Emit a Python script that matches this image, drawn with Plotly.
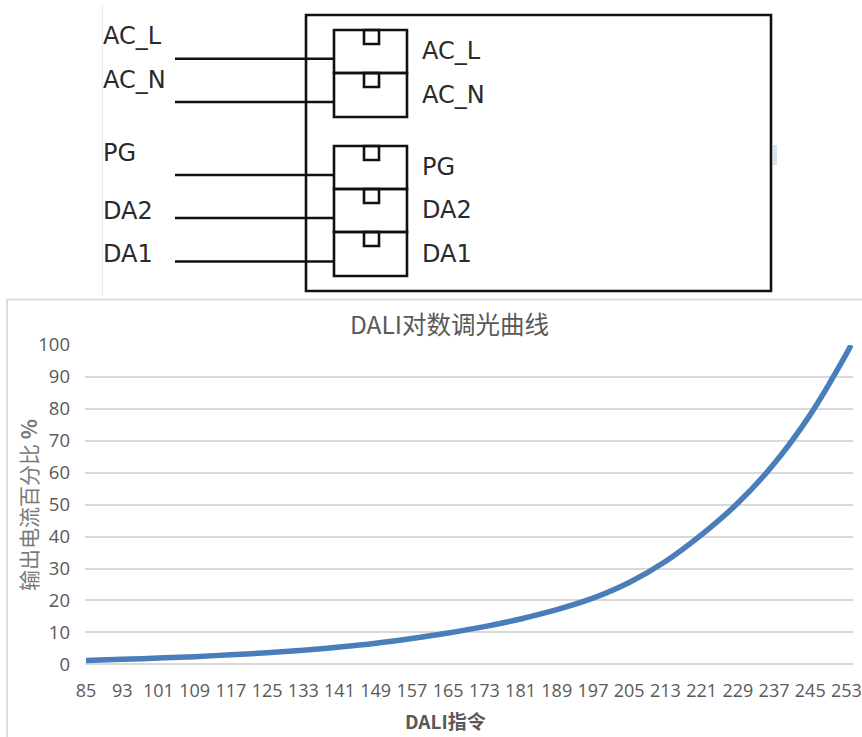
import plotly.graph_objects as go

W, H = 862, 737

# Chart data
dali_command = [85, 93, 101, 109, 117, 125, 133, 141, 149, 157, 165, 173, 181,
                189, 197, 205, 213, 221, 229, 237, 245, 253, 254]
output_pct = [1.2, 1.55, 1.95, 2.4, 3.0, 3.6, 4.4, 5.4, 6.6, 8.1, 9.8, 11.8, 14.2,
              17.1, 20.7, 25.6, 32.2, 40.6, 50.5, 62.8, 78.2, 97.3, 100.0]
y_ticks = list(range(0, 101, 10))
x_ticks = list(range(85, 254, 8))
chart_title = "DALI对数调光曲线"
x_title = "<b>DALI指令</b>"
y_title = "输出电流百分比 <b>%</b>"

# Wiring diagram labels
left_labels = ["AC_L", "AC_N", "PG", "DA2", "DA1"]
left_label_y = [36, 80, 153, 211, 254]
right_labels = ["AC_L", "AC_N", "PG", "DA2", "DA1"]
right_label_y = [51, 95, 167, 210, 254]
wire_y = [58.7, 102, 175, 218, 261.5]
terminal_rows = [(30, 73), (73, 117), (146, 189), (189, 232), (232, 276)]

DARK = "#111111"
TEXT = "#595959"
TICK_FONT = "Open Sans, Noto Sans, sans-serif"
CJK = "Noto Sans CJK SC"

fig = go.Figure()
fig.add_trace(go.Scatter(
    x=dali_command, y=output_pct, mode="lines", cliponaxis=False,
    line=dict(color="#4A7EBB", width=5.5, shape="spline", smoothing=1),
    hoverinfo="skip", showlegend=False))

shapes = []


def seg(x0, y0, x1, y1, color=DARK, width=2.6):
    shapes.append(dict(type="line", xref="x2", yref="y2", x0=x0, y0=y0, x1=x1, y1=y1,
                       line=dict(color=color, width=width)))


def box(x0, y0, x1, y1, color=DARK, width=2.6, fill=None):
    shapes.append(dict(type="rect", xref="x2", yref="y2", x0=x0, y0=y0, x1=x1, y1=y1,
                       line=dict(color=color, width=width),
                       fillcolor=fill if fill else "rgba(0,0,0,0)"))


# Faint page edges of the pasted picture
seg(102.5, 5, 102.5, 296, "#ececec", 1)
seg(7, 299.5, 862, 299.5, "#dcdcdc", 2)
seg(7, 299.5, 7, 737, "#dcdcdc", 2)
seg(775, 145, 775, 165, "#d5e2f2", 4)

box(306, 15, 771, 291)
for y in wire_y:
    seg(175, y, 334, y)
for top, bottom in terminal_rows:
    box(334, top, 407, bottom)
    box(364, top, 379, top + 14)

annotations = []
for text, y in zip(left_labels, left_label_y):
    annotations.append(dict(text=text, x=101, y=y, xref="x2", yref="y2", xanchor="left",
                            yanchor="middle", showarrow=False,
                            font=dict(family="DejaVu Sans", size=24, color="#2a2a2a")))
for text, y in zip(right_labels, right_label_y):
    annotations.append(dict(text=text, x=420, y=y, xref="x2", yref="y2", xanchor="left",
                            yanchor="middle", showarrow=False,
                            font=dict(family="DejaVu Sans", size=24, color="#2a2a2a")))
annotations.append(dict(text=chart_title, x=449, y=323, xref="x2", yref="y2", showarrow=False,
                        xanchor="center", yanchor="middle",
                        font=dict(family=CJK, size=24.5, color=TEXT)))
annotations.append(dict(text=x_title, x=445, y=720, xref="x2", yref="y2", showarrow=False,
                        xanchor="center", yanchor="middle",
                        font=dict(family=CJK, size=19, color=TEXT)))
annotations.append(dict(text=y_title, x=28, y=505, xref="x2", yref="y2", showarrow=False,
                        textangle=-90, xanchor="center", yanchor="middle",
                        font=dict(family=CJK, size=21, color="#7a7a7a")))

px_per_unit = (851 - 86) / 169

fig.update_layout(
    width=W, height=H, autosize=False,
    margin=dict(l=0, r=0, t=0, b=0),
    paper_bgcolor="white", plot_bgcolor="rgba(0,0,0,0)",
    showlegend=False, shapes=shapes, annotations=annotations,
    xaxis=dict(domain=[85 / W, 853 / W], automargin=False,
               range=[85 - 1 / px_per_unit, 254 + 2 / px_per_unit],
               tickmode="array", tickvals=x_ticks, ticktext=[str(v) for v in x_ticks],
               showgrid=False, zeroline=False, showline=False, ticks="",
               ticklabelstandoff=14, tickangle=0, ticklabeloverflow="allow",
               tickfont=dict(family=TICK_FONT, size=18, color=TEXT)),
    yaxis=dict(domain=[(H - 664.3) / H, (H - 345) / H], range=[0, 100], automargin=False,
               tickmode="array", tickvals=y_ticks,
               showgrid=True, gridcolor="#d9d9d9", gridwidth=1.5,
               zeroline=True, zerolinecolor="#d9d9d9", zerolinewidth=1.5,
               showline=False, ticks="", ticklabelstandoff=14,
               tickfont=dict(family=TICK_FONT, size=18.5, color=TEXT)),
    xaxis2=dict(domain=[0, 1], range=[0, W], anchor="y2", automargin=False,
                visible=False, fixedrange=True),
    yaxis2=dict(domain=[0, 1], range=[H, 0], anchor="x2", automargin=False,
                visible=False, fixedrange=True),
)
# an invisible trace keeps the overlay axes active
fig.add_trace(go.Scatter(x=[0], y=[0], xaxis="x2", yaxis="y2", mode="markers",
                         marker=dict(opacity=0), hoverinfo="skip", showlegend=False))

fig.write_html("out.html", config=dict(displayModeBar=False),
               post_script="document.body.style.margin='0';document.documentElement.style.overflow='hidden';")
